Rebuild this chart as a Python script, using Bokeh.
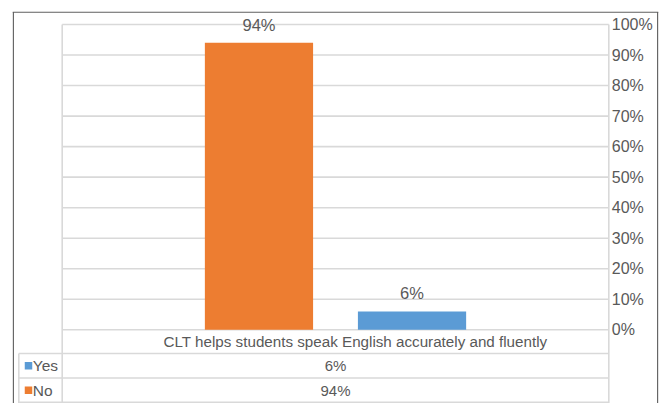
from bokeh.plotting import figure
from bokeh.models import LinearAxis, FixedTicker, Range1d, ColumnDataSource, NumeralTickFormatter
from bokeh.core.properties import value
from bokeh.embed import file_html
from bokeh.resources import INLINE

# ---------------- data ----------------
categories = ["CLT helps students speak English accurately and fluently"]
series_names = ["Yes", "No"]
yes_values = [0.06]
no_values = [0.94]
tick_values = [0.0, 0.1, 0.2, 0.3, 0.4, 0.5, 0.6, 0.7, 0.8, 0.9, 1.0]

# ---------------- style ----------------
ORANGE = "#ED7D31"
BLUE = "#5B9BD5"
TEXT = "#595959"
GRID = "#d9d9d9"
BORDER = "#5f5f5f"
FONT = value("Liberation Sans")

# page-pixel helpers (layout only): category area spans [0,1] in x, value 0..1 in y
X_L, X_R = 61.7, 608.3
Y_0, Y_1 = 329.3, 24.0
def dx(px):
    return (px - X_L) / (X_R - X_L)
def dy(py):
    return (Y_0 - py) / (Y_0 - Y_1)

FR_L, FR_R, FR_T, FR_B = 12.0, 658.0, 11.0, 403.0
p = figure(width=660, height=403, output_backend="svg", toolbar_location=None,
           x_range=Range1d(dx(FR_L), dx(FR_R)), y_range=Range1d(dy(FR_B), dy(FR_T)),
           x_axis_location=None, y_axis_location=None,
           min_border_left=int(FR_L), min_border_right=int(660 - FR_R),
           min_border_top=int(FR_T), min_border_bottom=0)
p.outline_line_color = None
p.xgrid.visible = False
p.ygrid.visible = False

# outer chart border (left, top, right)
top_py, bot_py = 11.6, 403.0
p.segment(x0=[dx(12.8), dx(12.0), dx(657.2)], y0=[dy(bot_py), dy(top_py), dy(bot_py)],
          x1=[dx(12.8), dx(658.0), dx(657.2)], y1=[dy(top_py), dy(top_py), dy(top_py)],
          line_color=BORDER, line_width=1.3)

# horizontal gridlines over the category area
p.segment(x0=[0.0] * len(tick_values), x1=[1.0] * len(tick_values),
          y0=tick_values, y1=tick_values, line_color=GRID, line_width=1.6)

# data table lines
row_edges_px = [Y_0, 353.0, 377.5, 401.8]
legend_left = dx(18.3)
p.segment(x0=[0.0, 1.0, legend_left], x1=[0.0, 1.0, legend_left],
          y0=[1.0, 1.0, dy(row_edges_px[1])], y1=[dy(bot_py)] * 3,
          line_color=GRID, line_width=1.6)
p.segment(x0=[legend_left] * 3, x1=[1.0] * 3,
          y0=[dy(e) for e in row_edges_px[1:]], y1=[dy(e) for e in row_edges_px[1:]],
          line_color=GRID, line_width=1.6)

# bars
cat_x = [i + 0.5 for i in range(len(categories))]
bar_w = 0.198
shift = 0.14
src = ColumnDataSource(dict(
    x_no=[c - shift for c in cat_x], x_yes=[c + shift for c in cat_x],
    no=no_values, yes=yes_values,
    no_lbl=[f"{round(v * 100)}%" for v in no_values],
    yes_lbl=[f"{round(v * 100)}%" for v in yes_values],
))
p.vbar(x="x_no", top="no", bottom=0, width=bar_w, source=src, fill_color=ORANGE, line_color=None)
p.vbar(x="x_yes", top="yes", bottom=0, width=bar_w, source=src, fill_color=BLUE, line_color=None)
p.text(x="x_no", y="no", text="no_lbl", source=src, y_offset=-18, text_align="center",
       text_baseline="middle", text_color=TEXT, text_font=FONT, text_font_size="16.5px")
p.text(x="x_yes", y="yes", text="yes_lbl", source=src, y_offset=-18, text_align="center",
       text_baseline="middle", text_color=TEXT, text_font=FONT, text_font_size="16.5px")

# data table text
row_mid = [dy((row_edges_px[i] + row_edges_px[i + 1]) / 2) for i in range(3)]
p.text(x=cat_x, y=[row_mid[0]] * len(categories), text=categories, x_offset=20,
       text_align="center", text_baseline="middle", text_color=TEXT,
       text_font=FONT, text_font_size="15.2px")
p.text(x=cat_x, y=[row_mid[1]], text=[f"{round(v * 100)}%" for v in yes_values],
       text_align="center", text_baseline="middle", text_color=TEXT,
       text_font=FONT, text_font_size="15px")
p.text(x=cat_x, y=[row_mid[2]], text=[f"{round(v * 100)}%" for v in no_values],
       text_align="center", text_baseline="middle", text_color=TEXT,
       text_font=FONT, text_font_size="15px")

# legend keys in the table
p.scatter(x=[dx(28.0)] * 2, y=[row_mid[1], row_mid[2]], marker="square", size=7.5,
          fill_color=[BLUE, ORANGE], line_color=None)
p.text(x=[dx(32.3)] * 2, y=[row_mid[1], row_mid[2]], text=series_names,
       text_align="left", text_baseline="middle", text_color=TEXT,
       text_font=FONT, text_font_size="15.5px")

# right value axis, at the right edge of the category area
ax = LinearAxis(ticker=FixedTicker(ticks=tick_values), fixed_location=1.0,
                formatter=NumeralTickFormatter(format="0%"))
ax.axis_line_color = None
ax.major_tick_line_color = None
ax.minor_tick_line_color = None
ax.major_tick_out = 0
ax.major_tick_in = 0
ax.minor_tick_out = 0
ax.minor_tick_in = 0
ax.major_label_standoff = 3
ax.major_label_text_font = "Liberation Sans"
ax.major_label_text_font_size = "16px"
ax.major_label_text_color = TEXT
p.add_layout(ax, "right")

open("out.html", "w").write(file_html(p, INLINE))
